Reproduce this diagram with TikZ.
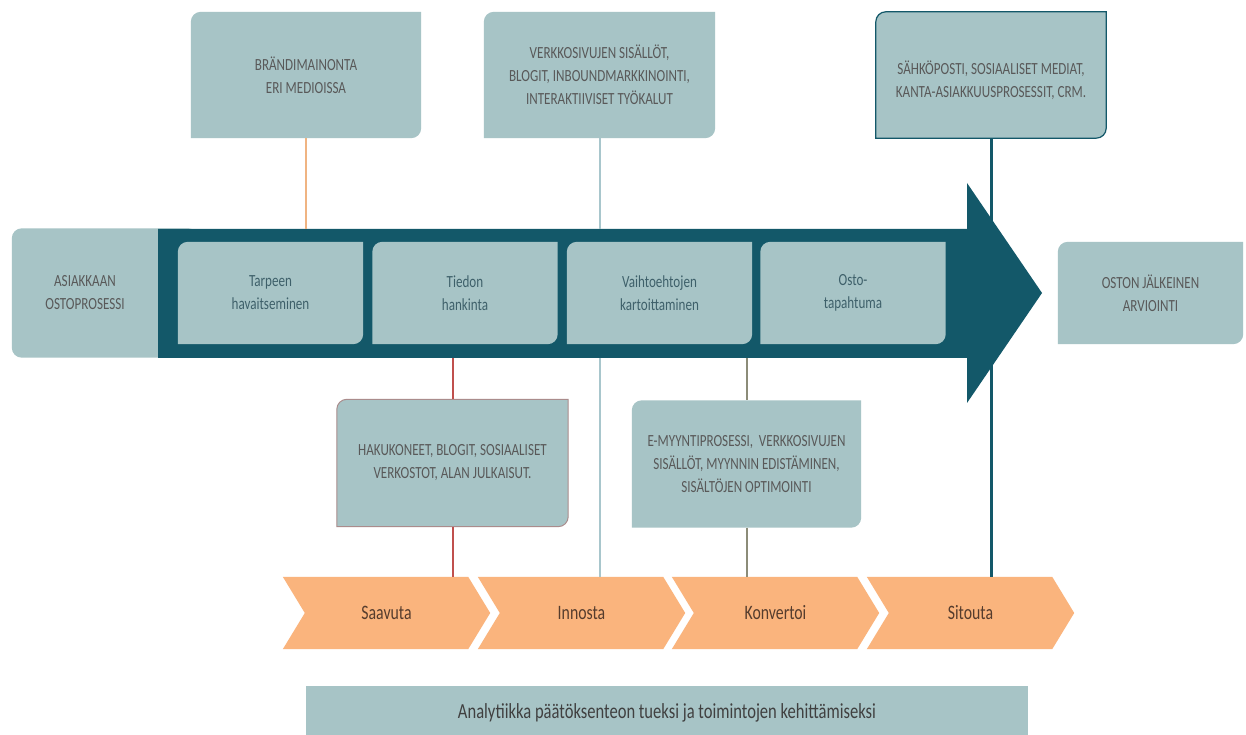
\documentclass[tikz,border=0pt]{standalone}
\usepackage{fontspec}
\setmainfont{Carlito}[FakeStretch=0.77]
\usetikzlibrary{backgrounds}
\definecolor{boxfill}{RGB}{167,196,198}
\definecolor{darkteal}{RGB}{19,88,105}
\definecolor{chev}{RGB}{250,180,125}
\definecolor{ctext}{RGB}{89,89,89}
\definecolor{itext}{RGB}{62,96,106}
\definecolor{chtext}{RGB}{85,60,45}
\definecolor{antext}{RGB}{64,64,64}
\definecolor{lnorange}{RGB}{240,180,130}
\definecolor{lnred}{RGB}{192,80,77}
\definecolor{lnlight}{RGB}{168,198,204}
\definecolor{lnolive}{RGB}{140,140,120}
\definecolor{hkborder}{RGB}{170,140,140}
\newcommand\diagshape[3]{%
  \path[#3] (#1.south west) -- ([yshift=-#2]#1.north west)
    arc[start angle=180,end angle=90,radius=#2] -- (#1.north east)
    -- ([yshift=#2]#1.south east)
    arc[start angle=0,end angle=-90,radius=#2] -- cycle;}
\tikzset{
  txt/.style={font=\fontsize{17}{23}\selectfont, align=center, inner sep=0pt, text=ctext},
  itxt/.style={txt, text=itext, minimum width=185, minimum height=102},
  chtxt/.style={font=\fontsize{20.5}{24}\selectfont, inner sep=0pt, text=chtext, minimum width=207, minimum height=72},
  c1/.style={draw=lnorange, line width=2pt},
  c2/.style={draw=lnlight, line width=2pt},
  c3/.style={draw=darkteal, line width=3pt},
  c4/.style={draw=lnred, line width=2pt},
  c5/.style={draw=lnolive, line width=2pt}
}
\begin{document}
\begin{tikzpicture}[x=1pt,y=1pt]
\useasboundingbox (0,0) rectangle (1246,735);
% top boxes
\node[txt, minimum width=230, minimum height=126] (t1) at (306,660) {BRÄNDIMAINONTA\\ERI MEDIOISSA};
\node[txt, minimum width=231, minimum height=126] (t2) at (599.5,660) {VERKKOSIVUJEN SISÄLLÖT,\\BLOGIT, INBOUNDMARKKINOINTI,\\INTERAKTIIVISET TYÖKALUT};
\node[txt, minimum width=230, minimum height=126] (t3) at (991,660) {\rule{0pt}{25pt}SÄHKÖPOSTI, SOSIAALISET MEDIAT,\\KANTA-ASIAKKUUSPROSESSIT, CRM.};
% left box
\node[txt, minimum width=146, minimum height=129] (lb) at (85,442) {ASIAKKAAN\\OSTOPROSESSI};
% inner steps
\node[itxt] (i1) at (270.5,442) {Tarpeen\\havaitseminen};
\node[itxt] (i2) at (465,442) {Tiedon\\hankinta};
\node[itxt] (i3) at (659.5,442) {Vaihtoehtojen\\kartoittaminen};
\node[itxt] (i4) at (853,442) {Osto-\\tapahtuma};
\node[txt, minimum width=185, minimum height=102] (pa) at (1150.5,442) {OSTON JÄLKEINEN\\ARVIOINTI};
% bottom boxes
\node[txt, minimum width=231, minimum height=127] (hk) at (452.5,272) {HAKUKONEET, BLOGIT, SOSIAALISET\\VERKOSTOT, ALAN JULKAISUT.};
\node[txt, minimum width=229, minimum height=127] (em) at (746.5,271) {E-MYYNTIPROSESSI,\ \ VERKKOSIVUJEN\\SISÄLLÖT, MYYNNIN EDISTÄMINEN,\\SISÄLTÖJEN OPTIMOINTI};
% chevrons
\node[chtxt] (ch1) at (386.5,122) {Saavuta};
\node[chtxt] (ch2) at (581.5,122) {Innosta};
\node[chtxt] (ch3) at (775.5,122) {Konvertoi};
\node[chtxt] (ch4) at (970.5,122) {Sitouta};
% analytics
\node[font=\fontsize{21.5}{24}\selectfont, inner sep=0pt, text=antext, minimum width=722, minimum height=44] (an) at (667,22) {Analytiikka päätöksenteon tueksi ja toimintojen kehittämiseksi};
% arrow reference coordinates
\coordinate (aT) at (560,506);
\coordinate (aB) at (560,377);
\begin{pgfonlayer}{background}
\fill[white] (0,0) rectangle (1246,735);
\diagshape{t1}{10pt}{fill=boxfill}
\diagshape{t2}{10pt}{fill=boxfill}
\diagshape{t3}{10pt}{fill=boxfill,draw=darkteal,line width=1.2pt}
\fill[boxfill, rounded corners=10pt] (lb.south west) rectangle ([xshift=40]lb.north east);
\fill[darkteal] (158,506) -- (967,506) -- (967,552) -- (1042,442) -- (967,332) -- (967,377) -- (158,377) -- cycle;
\foreach \n in {i1,i2,i3,i4,pa,em}{\diagshape{\n}{10pt}{fill=boxfill}}
\diagshape{hk}{10pt}{fill=boxfill,draw=hkborder,line width=1pt}
\foreach \n in {ch1,ch2,ch3,ch4}{
  \fill[chev] (\n.north west) -- ([xshift=-22]\n.north east) -- (\n.east)
    -- ([xshift=-22]\n.south east) -- (\n.south west) -- ([xshift=22]\n.west) -- cycle;}
\fill[boxfill] (an.south west) rectangle ([yshift=5]an.north east);
\end{pgfonlayer}
% connectors
\draw[c1] (t1.south) -- (t1.south |- aT);
\draw[c2] (t2.south) -- (t2.south |- aT);
\draw[c2] (t2.south |- aB) -- (t2.south |- ch2.north);
\draw[c3] (t3.south) -- (t3.south |- ch4.north);
\draw[c4] (hk.north |- aB) -- (hk.north);
\draw[c4] (hk.south) -- (hk.south |- ch1.north);
\draw[c5] (em.north |- aB) -- (em.north);
\draw[c5] (em.south) -- (em.south |- ch3.north);
\end{tikzpicture}
\end{document}
